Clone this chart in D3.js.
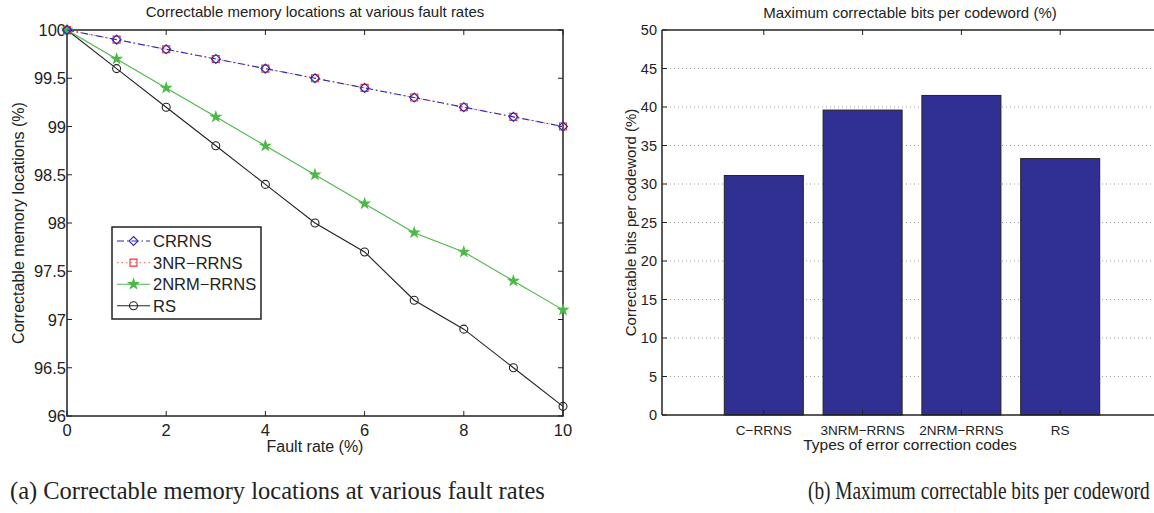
<!DOCTYPE html>
<html>
<head>
<meta charset="utf-8">
<script src="https://cdn.jsdelivr.net/npm/d3@7"></script>
<style>
  body { margin: 0; background: #fff; }
  svg text { font-family: "Liberation Sans", Arial, sans-serif; fill: #222; }
</style>
</head>
<body>
<div id="chart"></div>
<script>
// global sizes
var width = 1154;
var height = 513;

// data: left plot
var faultRates = [0, 1, 2, 3, 4, 5, 6, 7, 8, 9, 10];
var crrns = [100, 99.9, 99.8, 99.7, 99.6, 99.5, 99.4, 99.3, 99.2, 99.1, 99.0];
var nr3rrns = [100, 99.9, 99.8, 99.7, 99.6, 99.5, 99.4, 99.3, 99.2, 99.1, 99.0];
var nrm2rrns = [100, 99.7, 99.4, 99.1, 98.8, 98.5, 98.2, 97.9, 97.7, 97.4, 97.1];
var rs = [100, 99.6, 99.2, 98.8, 98.4, 98.0, 97.7, 97.2, 96.9, 96.5, 96.1];
var seriesNames = ["CRRNS", "3NR\u2212RRNS", "2NRM\u2212RRNS", "RS"];
var leftXTicks = [0, 2, 4, 6, 8, 10];
var leftYTicks = [96, 96.5, 97, 97.5, 98, 98.5, 99, 99.5, 100];

// data: right plot
var codeTypes = ["C\u2212RRNS", "3NRM\u2212RRNS", "2NRM\u2212RRNS", "RS"];
var maxBits = [31.1, 39.6, 41.5, 33.3];
var rightYTicks = [0, 5, 10, 15, 20, 25, 30, 35, 40, 45, 50];

var svg = d3.select("#chart").append("svg")
    .attr("width", width)
    .attr("height", height);

var axisColor = "#222";

// ---------- left plot ----------
var L = {left: 67, right: 563, top: 30, bottom: 416};
var xL = d3.scaleLinear().domain([0, 10]).range([L.left, L.right]);
var yL = d3.scaleLinear().domain([96, 100]).range([L.bottom, L.top]);

var gL = svg.append("g");

// box
gL.append("rect")
    .attr("x", L.left).attr("y", L.top)
    .attr("width", L.right - L.left).attr("height", L.bottom - L.top)
    .attr("fill", "none").attr("stroke", axisColor).attr("stroke-width", 1.5);

// ticks inside, on all four sides
leftXTicks.forEach(function(t) {
    gL.append("line").attr("x1", xL(t)).attr("x2", xL(t))
        .attr("y1", L.bottom).attr("y2", L.bottom - 5).attr("stroke", axisColor);
    gL.append("line").attr("x1", xL(t)).attr("x2", xL(t))
        .attr("y1", L.top).attr("y2", L.top + 5).attr("stroke", axisColor);
    gL.append("text").attr("x", xL(t)).attr("y", L.bottom + 20)
        .attr("text-anchor", "middle").attr("font-size", 16.5).text(t);
});
leftYTicks.forEach(function(t) {
    gL.append("line").attr("x1", L.left).attr("x2", L.left + 5)
        .attr("y1", yL(t)).attr("y2", yL(t)).attr("stroke", axisColor);
    gL.append("line").attr("x1", L.right).attr("x2", L.right - 5)
        .attr("y1", yL(t)).attr("y2", yL(t)).attr("stroke", axisColor);
    gL.append("text").attr("x", L.left - 1).attr("y", yL(t) + 6)
        .attr("text-anchor", "end").attr("font-size", 16.5).text(t);
});

gL.append("text").attr("x", (L.left + L.right) / 2).attr("y", 17)
    .attr("text-anchor", "middle").attr("font-size", 15)
    .text("Correctable memory locations at various fault rates");
gL.append("text").attr("x", (L.left + L.right) / 2).attr("y", 452)
    .attr("text-anchor", "middle").attr("font-size", 16).text("Fault rate (%)");
gL.append("text")
    .attr("transform", "translate(24," + ((L.top + L.bottom) / 2) + ") rotate(-90)")
    .attr("text-anchor", "middle").attr("font-size", 16)
    .text("Correctable memory locations (%)");

// series styles
var diamond = "M0,-4.5L4.5,0L0,4.5L-4.5,0Z";
var square = "M-3.5,-3.5L3.5,-3.5L3.5,3.5L-3.5,3.5Z";
var circle = d3.symbol().type(d3.symbolCircle).size(50)();
var star = d3.symbol().type(d3.symbolStar).size(30)();

var series = [
    {name: seriesNames[0], values: crrns, color: "#2b2bb0", dash: "7,3,1.5,3", marker: diamond, fillMarker: false},
    {name: seriesNames[1], values: nr3rrns, color: "#f0302f", dash: "1.5,3", marker: square, fillMarker: false, lineColor: "#f08080"},
    {name: seriesNames[2], values: nrm2rrns, color: "#4cb848", dash: null, marker: star, fillMarker: true},
    {name: seriesNames[3], values: rs, color: "#222222", dash: null, marker: circle, fillMarker: false}
];

var line = d3.line()
    .x(function(d) { return xL(d.x); })
    .y(function(d) { return yL(d.y); });

series.slice().reverse().forEach(function(s) {
    var pts = faultRates.map(function(x, i) { return {x: x, y: s.values[i]}; });
    gL.append("path").datum(pts)
        .attr("d", line)
        .attr("fill", "none")
        .attr("stroke", s.lineColor || s.color)
        .attr("stroke-width", 1.1)
        .attr("stroke-dasharray", s.dash);
    gL.selectAll(null).data(pts).enter().append("path")
        .attr("transform", function(d) { return "translate(" + xL(d.x) + "," + yL(d.y) + ")"; })
        .attr("d", s.marker)
        .attr("fill", s.fillMarker ? s.color : "none")
        .attr("stroke", s.color)
        .attr("stroke-width", 1.1);
});

// legend
var leg = gL.append("g");
leg.append("rect").attr("x", 112).attr("y", 227).attr("width", 149).attr("height", 92)
    .attr("fill", "#fff").attr("stroke", axisColor).attr("stroke-width", 1.5);
series.forEach(function(s, i) {
    var yy = 241 + i * 21.6;
    leg.append("line").attr("x1", 117).attr("x2", 150).attr("y1", yy).attr("y2", yy)
        .attr("stroke", s.lineColor || s.color).attr("stroke-width", 1.1)
        .attr("stroke-dasharray", s.dash);
    leg.append("path").attr("transform", "translate(133.5," + yy + ")")
        .attr("d", s.marker)
        .attr("fill", s.fillMarker ? s.color : "none")
        .attr("stroke", s.color).attr("stroke-width", 1.1);
    leg.append("text").attr("x", 153).attr("y", yy + 6)
        .attr("font-size", 16.5).text(s.name);
});

// ---------- right plot ----------
var R = {left: 662, top: 30, bottom: 415};
var unit = 98.8;
var xR = d3.scaleLinear().domain([0, 5]).range([665, 665 + 5 * unit]);
var yR = d3.scaleLinear().domain([0, 50]).range([R.bottom, R.top]);
var gR = svg.append("g");

// grid
rightYTicks.slice(1, -1).forEach(function(t) {
    gR.append("line").attr("x1", R.left).attr("x2", width)
        .attr("y1", yR(t)).attr("y2", yR(t))
        .attr("stroke", "#888").attr("stroke-width", 0.8).attr("stroke-dasharray", "1,3");
});

// bars
gR.selectAll("rect.bar").data(maxBits).enter().append("rect")
    .attr("class", "bar")
    .attr("x", function(d, i) { return xR(i + 1 - 0.4); })
    .attr("width", xR(0.8) - xR(0))
    .attr("y", function(d) { return yR(d); })
    .attr("height", function(d) { return yR(0) - yR(d); })
    .attr("fill", "#303093")
    .attr("stroke", "#222").attr("stroke-width", 1);

// axes
gR.append("line").attr("x1", R.left).attr("x2", width).attr("y1", R.bottom).attr("y2", R.bottom)
    .attr("stroke", axisColor).attr("stroke-width", 1.5);
gR.append("line").attr("x1", R.left).attr("x2", width).attr("y1", R.top).attr("y2", R.top)
    .attr("stroke", axisColor).attr("stroke-width", 1.5);
gR.append("line").attr("x1", R.left).attr("x2", R.left).attr("y1", R.top).attr("y2", R.bottom)
    .attr("stroke", axisColor).attr("stroke-width", 1.5);

rightYTicks.forEach(function(t) {
    gR.append("line").attr("x1", R.left).attr("x2", R.left + 5)
        .attr("y1", yR(t)).attr("y2", yR(t)).attr("stroke", axisColor);
    gR.append("text").attr("x", R.left - 5).attr("y", yR(t) + 5)
        .attr("text-anchor", "end").attr("font-size", 14.5).text(t);
});
codeTypes.forEach(function(c, i) {
    gR.append("line").attr("x1", xR(i + 1)).attr("x2", xR(i + 1))
        .attr("y1", R.top).attr("y2", R.top + 5).attr("stroke", axisColor);
    gR.append("line").attr("x1", xR(i + 1)).attr("x2", xR(i + 1))
        .attr("y1", R.bottom).attr("y2", R.bottom - 5).attr("stroke", axisColor);
    gR.append("text").attr("x", xR(i + 1)).attr("y", R.bottom + 20)
        .attr("text-anchor", "middle").attr("font-size", 13.5).text(c);
});

gR.append("text").attr("x", 910).attr("y", 18)
    .attr("text-anchor", "middle").attr("font-size", 15)
    .text("Maximum correctable bits per codeword (%)");
gR.append("text").attr("x", 910).attr("y", 450)
    .attr("text-anchor", "middle").attr("font-size", 15.5)
    .text("Types of error correction codes");
gR.append("text")
    .attr("transform", "translate(636," + ((R.top + R.bottom) / 2) + ") rotate(-90)")
    .attr("text-anchor", "middle").attr("font-size", 15)
    .text("Correctable bits per codeword (%)");

// captions, squeezed horizontally to the reference width
function caption(x, w, label) {
    var t = svg.append("text")
        .attr("font-size", 25)
        .style("font-family", "'Liberation Serif', 'Times New Roman', serif")
        .text(label);
    var natural = t.node().getComputedTextLength();
    t.attr("transform", "translate(" + x + ",499) scale(" + (w / natural) + ",1)");
}
caption(10, 535, "(a) Correctable memory locations at various fault rates");
caption(808, 342, "(b) Maximum correctable bits per codeword");
</script>
</body>
</html>
